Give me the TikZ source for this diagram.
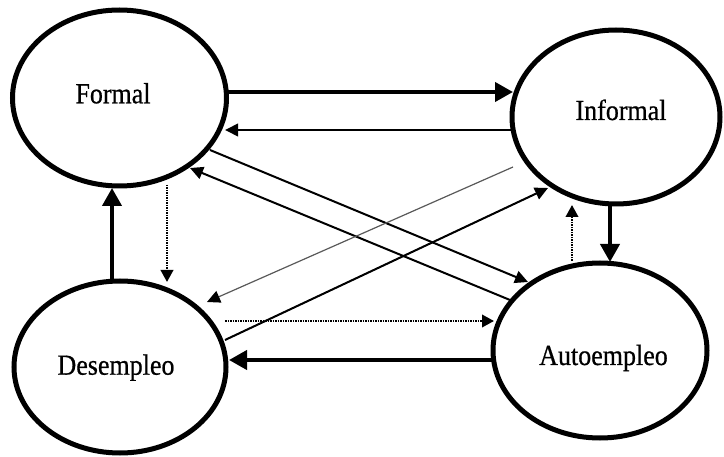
\documentclass[tikz,border=0pt]{standalone}
\usepackage{fontspec}
\setmainfont{Liberation Serif}
\newfontfamily\lblfont[FakeBold=0.7]{Liberation Serif}
\usetikzlibrary{arrows.meta,shapes.geometric,calc}
\newcommand{\tallword}[1]{\scalebox{1}[1.12]{#1}}
\begin{document}
\begin{tikzpicture}[x=1pt,y=-1pt,
  state/.style={draw,ellipse,line width=5pt,inner sep=0pt},
  lbl/.style={anchor=base,font=\lblfont\fontsize{26}{30}\selectfont,inner sep=0pt},
  heavy/.style={line width=4pt,-{Triangle[length=18pt,width=19pt]}},
  light/.style={line width=2pt,-{Triangle[length=13pt,width=12.5pt]}},
  faint/.style={line width=1.2pt,draw=black!65,-{Triangle[length=13pt,width=12.5pt,color=black]}},
  dots/.style={line width=2.2pt,draw=black,dash pattern=on 1.5pt off 1pt,-{Triangle[length=12pt,width=12.5pt,color=black]}}]
\useasboundingbox (0,0) rectangle (724,457);

% states
\node[state,minimum width=214pt,minimum height=176pt] (F) at (119.5,98) {};
\node[state,minimum width=208pt,minimum height=174pt] (I) at (616,117) {};
\node[state,minimum width=212pt,minimum height=172pt] (D) at (120,367) {};
\node[state,minimum width=214pt,minimum height=175pt] (A) at (600,350.5) {};

\node[lbl] (tF) at (113,103.3) {\tallword{Formal}};
\node[lbl] (tI) at (621,120) {\tallword{Informal}};
\node[lbl] (tD) at (116,374.7) {\tallword{Desempleo}};
\node[lbl] (tA) at (603.5,365) {\tallword{Autoempleo}};

% connectors
\draw[heavy] ($(F)+(107.5,-6)$) -- ($(I)+(-103,-25)$);
\draw[light] ($(I)+(-104,13)$) -- ($(F)+(105.5,32)$);
\draw[light] ($(F)+(90.5,52)$) -- ($(A)+(-72,-68.5)$);
\draw[light] ($(A)+(-90,-50.5)$) -- ($(F)+(70.5,70)$);
\draw[faint] ($(I)+(-103,50)$) -- ($(D)+(87,-65)$);
\draw[light] ($(D)+(105,-27)$) -- ($(I)+(-68,71)$);
\draw[dots] ($(F)+(47.5,87)$) -- ($(D)+(47,-85)$);
\draw[heavy] ($(D)+(-8,-87)$) -- ($(F)+(-7.5,90)$);
\draw[dots] ($(D)+(105,-46)$) -- ($(A)+(-106,-29.5)$);
\draw[heavy] ($(A)+(-107,9.5)$) -- ($(D)+(109,-7)$);
\draw[heavy] ($(I)+(-6,88)$) -- ($(A)+(10,-88.5)$);
\draw[dots] ($(A)+(-28,-89.5)$) -- ($(I)+(-44,88)$);
\end{tikzpicture}
\end{document}
